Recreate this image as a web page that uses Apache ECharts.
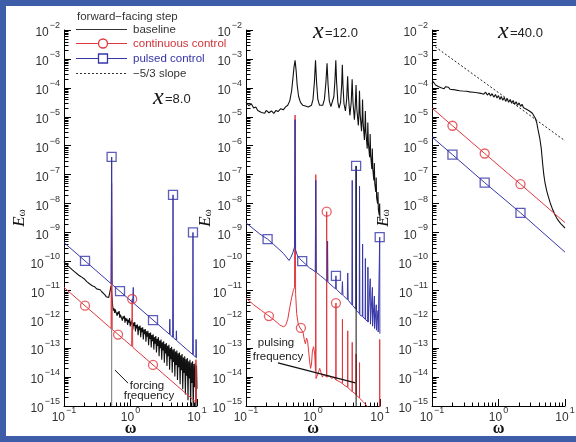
<!DOCTYPE html>
<html>
<head>
<meta charset="utf-8">
<script src="https://cdn.jsdelivr.net/npm/echarts@6/dist/echarts.min.js"></script>
<style>
html,body{margin:0;padding:0;background:#fff;}
#wrap{position:relative;width:576px;height:442px;overflow:hidden;background:#fff;}
#chart{position:absolute;left:0;top:0;width:576px;height:442px;}
#frame{position:absolute;left:0;top:0;width:576px;height:442px;box-sizing:border-box;
  border-left:6px solid #3d5da8;border-top:6px solid #3d5da8;border-bottom:6px solid #3d5da8;pointer-events:none;}
</style>
</head>
<body>
<div id="wrap"><div id="chart"></div><div id="frame"></div></div>
<script>
// Energy spectra E_w(w) behind a forward-facing step, three stations.
// Every point is [omega, log10(E_omega)].

const stations = ['=8.0', '=12.0', '=40.0'];

// ---- station x = 8.0 ----
const baseline8 = [
  [0.100,-10.00],[0.105,-10.08],[0.110,-10.10],[0.118,-10.18],[0.125,-10.22],[0.135,-10.30],
  [0.145,-10.36],[0.155,-10.40],[0.165,-10.47],[0.178,-10.52],[0.190,-10.58],[0.205,-10.62],
  [0.220,-10.70],[0.235,-10.74],[0.250,-10.80],[0.270,-10.85],[0.290,-10.88],[0.310,-10.95],
  [0.330,-10.92],[0.350,-10.98],[0.370,-11.05],[0.390,-11.10],[0.410,-11.15],[0.430,-11.22],
  [0.450,-11.18],[0.470,-11.25],[0.490,-11.05],[0.510,-10.85],
  [0.540,-11.55],[0.553,-11.70],[0.565,-11.62],[0.578,-11.78],[0.590,-11.66],[0.603,-11.74],
  [0.617,-11.68],[0.631,-11.88],[0.645,-11.75],[0.660,-11.82],[0.675,-11.72],[0.690,-11.95],
  [0.706,-11.84],[0.722,-11.90],[0.738,-11.80],[0.755,-12.05],[0.772,-11.90],[0.790,-11.98],
  [0.808,-11.88],[0.826,-12.12],[0.845,-11.95],[0.864,-12.06],[0.884,-11.98],[0.904,-12.20],
  [0.925,-12.02],[0.946,-12.12],[0.968,-11.96],[0.990,-12.25],[1.013,-12.08],[1.036,-12.18],
  [1.060,-12.02],[1.084,-12.36],[1.109,-12.12],[1.134,-12.24],[1.160,-12.10],[1.187,-12.42],
  [1.214,-12.20],[1.242,-12.32],[1.270,-12.18],[1.300,-12.55],[1.330,-12.25],[1.360,-12.38],
  [1.391,-12.22],[1.423,-12.62],[1.456,-12.30],[1.490,-12.45],[1.524,-12.28],[1.559,-12.70],
  [1.595,-12.36],[1.631,-12.52],[1.669,-12.34],[1.707,-12.78],[1.747,-12.42],[1.787,-12.60],
  [1.828,-12.40],[1.870,-12.90],[1.913,-12.48],[1.957,-12.68],[2.002,-12.46],[2.048,-12.98],
  [2.095,-12.55],[2.143,-12.76],[2.193,-12.52],[2.243,-13.05],[2.295,-12.62],[2.347,-12.85],
  [2.401,-12.58],[2.457,-13.15],[2.513,-12.68],[2.571,-12.92],[2.630,-12.62],[2.691,-13.28],
  [2.753,-12.74],[2.816,-13.00],[2.881,-12.70],[2.947,-13.40],[3.015,-12.80],[3.084,-13.08],
  [3.155,-12.76],[3.228,-13.50],[3.302,-12.86],[3.378,-13.18],[3.456,-12.82],[3.535,-13.62],
  [3.617,-12.92],[3.700,-13.28],[3.785,-12.88],[3.872,-13.75],[3.961,-13.00],[4.052,-13.38],
  [4.146,-12.95],[4.241,-13.85],[4.339,-13.05],[4.439,-13.48],[4.541,-13.02],[4.645,-13.98],
  [4.752,-13.12],[4.861,-13.58],[4.973,-13.08],[5.088,-14.10],[5.205,-13.18],[5.325,-13.66],
  [5.447,-13.15],[5.573,-14.25],[5.701,-13.25],[5.832,-13.76],[5.966,-13.20],[6.104,-14.42],
  [6.244,-13.32],[6.388,-13.86],[6.535,-13.28],[6.685,-14.60],[6.839,-13.38],[6.996,-13.95],
  [7.157,-13.34],[7.322,-14.80],[7.490,-13.45],[7.662,-14.05],[7.839,-13.40],[8.019,-15.00],
  [8.204,-13.50],[8.392,-14.20],[8.585,-13.45],[8.783,-15.10],[8.985,-13.55],[9.192,-14.35],
  [9.403,-13.52],[9.620,-15.20],[9.841,-13.60],[10.00,-14.40]
];
const continuous8 = [
  [0.10,-10.90],[0.51,-12.32],[0.52,-7.30],[0.53,-12.35],[1.04,-12.93],[1.06,-11.30],
  [1.08,-12.97],[9.55,-14.86],[9.65,-13.40],[9.75,-14.88],[10.0,-14.90]
];
const pulsed8 = [
  [0.10,-9.35],[0.51,-10.77],[0.52,-6.39],[0.53,-10.80],[1.08,-11.42],[1.10,-10.90],
  [1.12,-11.45],[3.85,-12.52],[3.90,-12.00],[3.95,-12.54],[4.30,-12.62],[4.36,-7.70],
  [4.42,-12.64],[4.85,-12.72],[4.90,-12.40],[4.95,-12.74],[8.60,-13.22],[8.70,-9.00],
  [8.80,-13.24],[9.60,-13.31],[9.70,-12.70],[9.80,-13.33],[10.0,-13.35]
];
const continuousMarks8 = [[0.207,-11.53],[0.65,-12.53],[2.18,-13.58],[1.06,-11.30]];
const pulsedMarks8 = [[0.207,-9.98],[0.695,-11.03],[2.18,-12.03],[0.52,-6.39],[4.36,-7.70],[8.70,-9.00]];
const forcingLine8 = [[0.52,-15],[0.52,-6.39]];
const forcingPointer8 = [[0.585,-13.76],[0.92,-14.21]];

// ---- station x = 12.0 ----
const baseline12 = [
  [0.10,-4.49],[0.11,-4.62],[0.12,-4.55],[0.13,-4.70],[0.14,-4.66],[0.15,-4.78],[0.16,-4.72],
  [0.17,-4.85],[0.18,-4.80],[0.19,-4.88],[0.20,-4.78],[0.22,-4.86],[0.24,-4.80],[0.26,-4.88],
  [0.28,-4.78],[0.30,-4.82],[0.33,-4.72],[0.36,-4.76],[0.39,-4.66],[0.42,-4.60],[0.45,-4.45],
  [0.48,-4.10],[0.50,-3.70],[0.52,-3.30],[0.54,-3.05],[0.56,-3.40],[0.58,-3.90],[0.61,-4.30],
  [0.65,-4.50],[0.70,-4.60],[0.75,-4.62],[0.80,-4.68],[0.85,-4.66],[0.90,-4.68],[0.95,-4.60],
  [1.00,-4.40],[1.05,-3.80],[1.09,-3.05],[1.13,-3.80],[1.18,-4.40],[1.25,-4.60],[1.32,-4.64],
  [1.40,-4.60],[1.48,-4.40],[1.56,-3.80],[1.62,-3.15],[1.68,-3.90],[1.75,-4.45],[1.85,-4.65],
  [1.95,-4.60],[2.05,-4.30],[2.13,-3.70],[2.19,-3.05],[2.25,-3.80],[2.35,-4.50],[2.45,-4.70],
  [2.58,-4.50],[2.68,-3.90],[2.74,-3.20],[2.80,-3.90],[2.90,-4.55],[3.05,-4.80],[3.18,-4.40],
  [3.29,-3.60],[3.38,-4.30],[3.55,-4.95],[3.72,-4.50],[3.84,-3.70],[3.95,-4.50],[4.15,-5.10],
  [4.28,-4.60],[4.39,-3.90],[4.50,-4.70],[4.75,-5.30],[4.85,-4.90],[4.94,-4.10],[5.05,-4.90],
  [5.30,-5.50],[5.42,-5.00],[5.49,-4.40],[5.60,-5.20],[5.85,-5.80],[5.97,-5.30],[6.04,-4.80],
  [6.15,-5.50],[6.45,-6.10],[6.52,-5.70],[6.58,-5.20],[6.70,-5.90],[7.00,-6.40],[7.07,-6.00],
  [7.13,-5.60],[7.25,-6.30],[7.55,-6.80],[7.62,-6.50],[7.68,-6.10],[7.80,-6.80],[8.10,-7.20],
  [8.17,-6.90],[8.23,-6.60],[8.35,-7.30],[8.65,-7.60],[8.72,-7.40],[8.78,-7.10],[8.90,-7.80],
  [9.20,-8.00],[9.27,-7.80],[9.33,-7.60],[9.45,-8.20],[9.75,-8.40],[9.82,-8.20],[9.88,-8.00],
  [10.0,-8.60]
];
const continuous12 = [
  [0.10,-11.27],[0.13,-11.50],[0.17,-11.70],[0.22,-11.89],[0.27,-12.05],[0.32,-12.20],
  [0.36,-12.26],[0.39,-12.22],[0.42,-12.00],[0.45,-11.60],[0.48,-11.25],[0.51,-11.00],
  [0.53,-10.90],[0.54,-4.94],[0.55,-11.10],[0.57,-11.80],[0.60,-12.15],[0.63,-12.27],
  [0.67,-12.30],[0.71,-12.45],[0.74,-12.70],[0.77,-12.85],[0.80,-12.65],[0.83,-12.75],
  [0.86,-13.10],[0.89,-13.45],[0.92,-13.70],[0.95,-13.55],[0.98,-13.10],[1.02,-12.95],
  [1.06,-13.20],[1.09,-13.80],[1.10,-7.00],[1.11,-14.05],[1.15,-14.00],[1.20,-13.85],
  [1.26,-13.70],[1.32,-13.85],[1.38,-14.00],[1.45,-13.90],[1.52,-13.95],[1.59,-14.00],
  [1.60,-8.28],[1.61,-14.00],[1.75,-13.95],[1.90,-14.05],[2.05,-14.00],[2.19,-14.10],
  [2.20,-11.44],[2.21,-14.10],[2.45,-14.15],[2.74,-14.22],[2.75,-12.00],[2.76,-14.23],
  [3.00,-14.30],[3.29,-14.35],[3.30,-12.40],[3.31,-14.36],[3.84,-14.50],[3.85,-12.80],
  [3.86,-14.50],[4.39,-14.60],[4.40,-13.20],[4.41,-14.62],[4.94,-14.72],[4.95,-13.50],
  [4.96,-14.73],[5.60,-14.85],[6.40,-15.00],[7.50,-15.20],[9.85,-15.50],[9.90,-12.70],
  [9.95,-15.50],[10.0,-15.50]
];
const pulsed12 = [
  [0.10,-8.67],[0.13,-8.88],[0.16,-9.05],[0.21,-9.23],[0.26,-9.42],[0.31,-9.58],[0.36,-9.72],
  [0.40,-9.85],[0.44,-9.97],[0.47,-9.85],[0.50,-9.70],[0.53,-9.50],[0.54,-5.10],[0.55,-9.60],
  [0.58,-9.78],[0.63,-9.90],[0.69,-9.99],[0.78,-10.10],[0.88,-10.22],[1.00,-10.30],
  [1.08,-10.36],[1.10,-7.20],[1.12,-10.38],[1.30,-10.50],[1.50,-10.62],[1.63,-10.70],
  [1.65,-9.30],[1.67,-10.72],[2.00,-10.88],[2.18,-10.95],[2.20,-10.50],[2.22,-10.96],
  [2.70,-11.15],[2.75,-10.70],[2.80,-11.17],[3.25,-11.32],[3.30,-10.40],[3.35,-11.34],
  [3.80,-11.50],[3.85,-7.20],[3.90,-11.52],[4.35,-11.65],[4.40,-6.70],[4.45,-11.70],
  [4.90,-11.80],[4.95,-7.40],[5.00,-11.85],[5.45,-11.90],[5.50,-9.40],[5.55,-11.92],
  [6.00,-12.00],[6.05,-9.90],[6.10,-12.02],[6.55,-12.08],[6.60,-10.20],[6.65,-12.10],
  [7.10,-12.15],[7.15,-10.60],[7.20,-12.17],[7.65,-12.22],[7.70,-10.90],[7.75,-12.24],
  [8.20,-12.30],[8.25,-11.20],[8.30,-12.32],[8.75,-12.36],[8.80,-11.50],[8.85,-12.38],
  [9.30,-12.42],[9.35,-11.70],[9.40,-12.44],[9.85,-12.48],[9.90,-9.16],[9.95,-12.50],
  [10.0,-12.50]
];
const continuousMarks12 = [[0.22,-11.89],[0.66,-12.30],[1.60,-8.28],[2.20,-11.44]];
const pulsedMarks12 = [[0.21,-9.23],[0.69,-9.99],[2.20,-10.50],[4.40,-6.70],[9.90,-9.16]];
const pulsingLine12 = [[4.40,-15],[4.40,-6.70]];
const pulsingPointer12 = [[0.30,-13.51],[4.30,-14.20]];

// ---- station x = 40.0 ----
const baseline40 = [
  [0.100,-3.85],[0.104,-3.78],[0.108,-3.82],[0.113,-3.90],[0.118,-3.86],[0.124,-3.95],
  [0.130,-3.92],[0.137,-4.00],[0.144,-3.97],[0.152,-4.03],[0.160,-3.96],[0.168,-4.02],
  [0.177,-3.98],[0.187,-4.05],[0.197,-3.99],[0.208,-4.06],[0.220,-4.01],[0.232,-4.08],
  [0.245,-4.03],[0.260,-4.10],[0.275,-4.04],[0.290,-4.11],[0.310,-4.06],[0.330,-4.12],
  [0.350,-4.07],[0.370,-4.14],[0.390,-4.08],[0.420,-4.15],[0.450,-4.10],[0.480,-4.17],
  [0.510,-4.11],[0.540,-4.19],[0.570,-4.13],[0.600,-4.22],[0.640,-4.15],[0.680,-4.25],
  [0.720,-4.18],[0.760,-4.28],[0.800,-4.20],[0.850,-4.32],[0.900,-4.23],[0.950,-4.35],
  [1.00,-4.27],[1.05,-4.40],[1.10,-4.30],[1.16,-4.43],[1.22,-4.33],[1.28,-4.47],[1.35,-4.37],
  [1.42,-4.50],[1.50,-4.40],[1.58,-4.53],[1.66,-4.44],[1.75,-4.57],[1.84,-4.48],[1.94,-4.60],
  [2.04,-4.52],[2.15,-4.64],[2.26,-4.57],[2.38,-4.69],[2.50,-4.63],[2.63,-4.74],[2.77,-4.70],
  [2.92,-4.80],[3.07,-4.78],[3.23,-4.88],[3.40,-4.93],[3.58,-5.05],[3.77,-5.22],[3.97,-5.50],
  [4.18,-5.75],[4.40,-6.10],[4.60,-6.60],[4.80,-7.00],[5.00,-7.28],[5.30,-7.55],[5.60,-7.75],
  [6.00,-7.98],[6.50,-8.20],[7.00,-8.37],[7.50,-8.50],[8.00,-8.60],[8.70,-8.70],[9.40,-8.78],
  [10.0,-8.85]
];
const continuous40 = [[0.10,-4.70],[0.203,-5.31],[0.62,-6.27],[2.14,-7.33],[10.0,-8.66]];
const pulsed40 = [[0.10,-5.70],[0.203,-6.31],[0.62,-7.28],[2.14,-8.32],[10.0,-9.68]];
const continuousMarks40 = [[0.203,-5.31],[0.62,-6.27],[2.14,-7.33]];
const pulsedMarks40 = [[0.203,-6.31],[0.62,-7.28],[2.14,-8.32]];
const slope40 = [[0.10,-2.50],[10.0,-5.83]];

// ---- styling ----
const RED = '#e0383e', BLUE = '#3636a8', BLACK = '#111', GRAY = '#8c8c8c';
const SANS = '"Liberation Sans", Arial, sans-serif';
const SERIF = '"Liberation Serif", "DejaVu Serif", serif';

const toE = pts => pts.map(p => [p[0], Math.pow(10, p[1])]);

const panelLayout = [
  { left: 64,  width: 133, nameGap: 36 },
  { left: 246, width: 134, nameGap: 32 },
  { left: 432, width: 133, nameGap: 40 }
];
const TOP = 30, HEIGHT = 376;

function supLabel(v) {
  const e = Math.round(Math.log10(v));
  return '{b|10}{s|' + (e < 0 ? '\u2212' + (-e) : String(e)) + '}';
}
const tickRich = {
  b: { fontSize: 12, color: '#333', fontFamily: SANS, lineHeight: 18, verticalAlign: 'bottom' },
  s: { fontSize: 9, color: '#333', fontFamily: SANS, lineHeight: 9, verticalAlign: 'top', padding: [0, 0, 0, 1] }
};

// minor tick positions (2..9 within each decade)
const minorY = [], minorX = [];
for (let k = -15; k < -2; k++) for (let m = 2; m <= 9; m++) minorY.push(m * Math.pow(10, k));
for (let k = -1; k < 1; k++) for (let m = 2; m <= 9; m++) minorX.push(m * Math.pow(10, k));
const minorData = minorY.map(v => [0.1, v, 0]).concat(minorX.map(v => [v, 1e-15, 1]));

const grids = [], xAxes = [], yAxes = [], series = [];

panelLayout.forEach((p, i) => {
  grids.push({ left: p.left, top: TOP, width: p.width, height: HEIGHT, containLabel: false, outerBoundsMode: 'none' });
  xAxes.push({
    type: 'log', logBase: 10, min: 0.1, max: 10, interval: 1, gridIndex: i,
    name: 'ω', nameLocation: 'middle', nameGap: 15, nameMoveOverlap: false,
    nameTextStyle: { fontFamily: SERIF, fontSize: 16, color: '#111', fontWeight: 'bold' },
    axisLine: { lineStyle: { color: '#000', width: 1 } },
    axisTick: { inside: true, length: 7, lineStyle: { color: '#000' } },
    axisLabel: { margin: 0, formatter: supLabel, rich: tickRich },
    splitLine: { show: false }
  });
  yAxes.push({
    type: 'log', logBase: 10, min: 1e-15, max: 1e-2, interval: 1, gridIndex: i,
    name: '{e|E}{w|ω}', nameLocation: 'middle', nameRotate: 90, nameGap: p.nameGap, nameMoveOverlap: false,
    nameTextStyle: {
      rich: {
        e: { fontFamily: SERIF, fontStyle: 'italic', fontSize: 17, color: '#111' },
        w: { fontFamily: SERIF, fontSize: 11, color: '#111', verticalAlign: 'bottom', lineHeight: 12 }
      }
    },
    axisLine: { lineStyle: { color: '#000', width: 1 } },
    axisTick: { inside: true, length: 7, lineStyle: { color: '#000' } },
    axisLabel: { margin: 4, formatter: supLabel, rich: tickRich },
    splitLine: { show: false }
  });
  series.push({
    type: 'custom', xAxisIndex: i, yAxisIndex: i, silent: true, data: minorData,
    renderItem: (params, api) => {
      const c = api.coord([api.value(0), api.value(1)]);
      const x = Math.round(c[0]) + 0.5, y = Math.round(c[1]) + 0.5;
      const vertical = api.value(2) === 1;
      return {
        type: 'line',
        shape: vertical ? { x1: x, y1: y, x2: x, y2: y - 4 } : { x1: x, y1: y, x2: x + 4, y2: y },
        style: { stroke: '#000', lineWidth: 1 }
      };
    }
  });
});

function lineSeries(i, name, pts, color, width, extra) {
  return Object.assign({
    type: 'line', name, xAxisIndex: i, yAxisIndex: i, data: toE(pts), symbol: 'none',
    lineStyle: { color, width }, itemStyle: { color }, silent: true, animation: false, clip: true
  }, extra || {});
}
function markSeries(i, name, pts, color, symbol) {
  return {
    type: 'scatter', name, xAxisIndex: i, yAxisIndex: i, data: toE(pts), symbol, symbolSize: 9,
    itemStyle: { color: 'rgba(255,255,255,0)', borderColor: color, borderWidth: 1.3 },
    silent: true, animation: false, z: 3
  };
}

// station 8.0
series.push(lineSeries(0, 'forcing', forcingLine8, GRAY, 1.2));
series.push(lineSeries(0, 'baseline', baseline8, BLACK, 1.1));
series.push(lineSeries(0, 'continuous control', continuous8, RED, 1));
series.push(lineSeries(0, 'pulsed control', pulsed8, BLUE, 1));
series.push(lineSeries(0, 'pointer', forcingPointer8, BLACK, 1));
series.push(markSeries(0, 'continuous control', continuousMarks8, RED, 'circle'));
series.push(markSeries(0, 'pulsed control', pulsedMarks8, BLUE, 'rect'));

// station 12.0
series.push(lineSeries(1, 'baseline', baseline12, BLACK, 1.1));
series.push(lineSeries(1, 'continuous control', continuous12, RED, 1));
series.push(lineSeries(1, 'pulsed control', pulsed12, BLUE, 1));
series.push(lineSeries(1, 'pulsing', pulsingLine12, BLACK, 1));
series.push(lineSeries(1, 'pointer', pulsingPointer12, BLACK, 1.2));
series.push(markSeries(1, 'continuous control', continuousMarks12, RED, 'circle'));
series.push(markSeries(1, 'pulsed control', pulsedMarks12, BLUE, 'rect'));

// station 40.0
series.push(lineSeries(2, '−5/3 slope', slope40, '#222', 1, { lineStyle: { color: '#222', width: 1, type: [2, 2] } }));
series.push(lineSeries(2, 'baseline', baseline40, BLACK, 1.1));
series.push(lineSeries(2, 'continuous control', continuous40, RED, 1));
series.push(lineSeries(2, 'pulsed control', pulsed40, BLUE, 1));
series.push(markSeries(2, 'continuous control', continuousMarks40, RED, 'circle'));
series.push(markSeries(2, 'pulsed control', pulsedMarks40, BLUE, 'rect'));

// legend block, station titles and annotations
const legendFont = '11.5px ' + SANS;
const graphics = [
  { type: 'text', x: 77, y: 17, style: { text: 'forward\u2212facing step', font: legendFont, fill: '#333', textVerticalAlign: 'middle' } },
  { type: 'line', shape: { x1: 76, y1: 29.5, x2: 127, y2: 29.5 }, style: { stroke: '#333', lineWidth: 1 } },
  { type: 'text', x: 133, y: 29.5, style: { text: 'baseline', font: legendFont, fill: '#333', textVerticalAlign: 'middle' } },
  { type: 'line', shape: { x1: 76, y1: 43.5, x2: 127, y2: 43.5 }, style: { stroke: RED, lineWidth: 1 } },
  { type: 'circle', shape: { cx: 103, cy: 43.5, r: 4.5 }, style: { stroke: RED, fill: '#fff', lineWidth: 1.3 } },
  { type: 'text', x: 133, y: 43.5, style: { text: 'continuous control', font: legendFont, fill: '#d0343a', textVerticalAlign: 'middle' } },
  { type: 'line', shape: { x1: 76, y1: 58.5, x2: 127, y2: 58.5 }, style: { stroke: BLUE, lineWidth: 1 } },
  { type: 'rect', shape: { x: 98.5, y: 54, width: 9, height: 9 }, style: { stroke: BLUE, fill: '#fff', lineWidth: 1.3 } },
  { type: 'text', x: 133, y: 58.5, style: { text: 'pulsed control', font: legendFont, fill: '#3434a4', textVerticalAlign: 'middle' } },
  { type: 'line', shape: { x1: 76, y1: 73.5, x2: 127, y2: 73.5 }, style: { stroke: '#333', lineWidth: 1, lineDash: [2, 2] } },
  { type: 'text', x: 133, y: 73.5, style: { text: '\u22125/3 slope', font: legendFont, fill: '#333', textVerticalAlign: 'middle' } },
  { type: 'text', x: 147, y: 386, style: { text: 'forcing', font: legendFont, fill: '#222', textAlign: 'center', textVerticalAlign: 'middle' } },
  { type: 'text', x: 149, y: 396, style: { text: 'frequency', font: legendFont, fill: '#222', textAlign: 'center', textVerticalAlign: 'middle' } },
  { type: 'text', x: 276, y: 343, style: { text: 'pulsing', font: legendFont, fill: '#222', textAlign: 'center', textVerticalAlign: 'middle' } },
  { type: 'text', x: 278, y: 357, style: { text: 'frequency', font: legendFont, fill: '#222', textAlign: 'center', textVerticalAlign: 'middle' } }
];
const titlePos = [[153, 98], [313, 32], [498, 32]];
titlePos.forEach((t, i) => {
  graphics.push({ type: 'text', x: t[0], y: t[1], style: { text: 'x', font: 'italic 24px ' + SERIF, fill: '#111', textVerticalAlign: 'middle' } });
  graphics.push({ type: 'text', x: t[0] + 12, y: t[1] + 1, style: { text: stations[i], font: '13px ' + SANS, fill: '#222', textVerticalAlign: 'middle' } });
});

const chart = echarts.init(document.getElementById('chart'), null, { renderer: 'canvas' });
chart.setOption({
  animation: false,
  backgroundColor: '#fff',
  grid: grids,
  xAxis: xAxes,
  yAxis: yAxes,
  series: series,
  graphic: graphics
});
</script>
</body>
</html>
